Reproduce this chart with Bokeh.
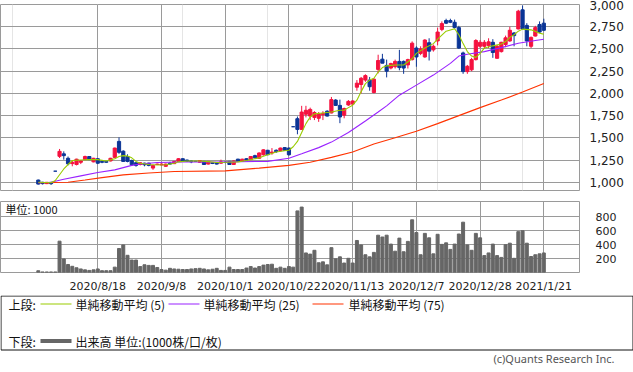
from bokeh.plotting import figure
from bokeh.models import Range1d, FixedTicker, Grid, NumeralTickFormatter, Label, ColumnDataSource
from bokeh.layouts import column
from bokeh.embed import file_html
from bokeh.resources import INLINE
from bokeh.core.properties import value

# ---------------- data (trading-day index, 0 = 2020/8/18) ----------------
day = list(range(-14, 106))

opens = [1025, 1000, 985, 1000, 1125,
         1292, 1320, 1270, 1210, 1200,
         1225, 1255, 1290, 1230, 1265,
         1235, 1235, 1240, 1280, 1460,
         1350, 1290, 1245, 1220, 1200,
         1215, 1215, 1160, 1200, 1195,
         1180, 1215, 1210, 1235, 1265,
         1250, 1240, 1235, 1225, 1235,
         1205, 1220, 1215, 1215, 1225,
         1235, 1200, 1260, 1235, 1265,
         1255, 1300, 1270, 1310, 1360,
         1330, 1360, 1355, 1390, 1385,
         1625, 1715, 1595, 1765, 1745,
         1730, 1720, 1760, 1800, 1780,
         1925, 1865, 1755, 1870, 1880,
         2070, 2100, 2150, 2150, 2010,
         2270, 2385, 2315, 2285, 2300,
         2360, 2360, 2320, 2380, 2510,
         2450, 2410, 2570, 2490, 2590,
         2720, 2820, 2820, 2800, 2740,
         2455, 2245, 2265, 2380, 2530,
         2530, 2540, 2575, 2395, 2470,
         2550, 2590, 2680, 2725, 2940,
         2765, 2530, 2645, 2775, 2790]

highs = [1030, 1005, 1000, 1000, 1125,
         1375, 1348, 1290, 1240, 1265,
         1250, 1300, 1295, 1275, 1270,
         1245, 1240, 1275, 1390, 1505,
         1360, 1315, 1255, 1225, 1225,
         1220, 1220, 1195, 1210, 1210,
         1210, 1230, 1240, 1270, 1270,
         1255, 1245, 1240, 1250, 1240,
         1240, 1225, 1220, 1255, 1235,
         1240, 1245, 1265, 1265, 1270,
         1295, 1310, 1335, 1370, 1365,
         1385, 1370, 1390, 1395, 1390,
         1625, 1740, 1860, 1860, 1840,
         1800, 1790, 1800, 1810, 1960,
         1935, 1930, 1840, 1925, 1920,
         2150, 2185, 2215, 2185, 2170,
         2435, 2445, 2380, 2345, 2380,
         2490, 2370, 2390, 2585, 2530,
         2530, 2610, 2620, 2550, 2740,
         2810, 2840, 2840, 2830, 2760,
         2470, 2320, 2400, 2610, 2600,
         2600, 2620, 2610, 2545, 2580,
         2650, 2750, 2690, 2940, 2990,
         2790, 2640, 2760, 2810, 2840]

lows = [975, 975, 980, 970, 1125,
        1273, 1255, 1190, 1180, 1190,
        1205, 1250, 1250, 1225, 1205,
        1215, 1220, 1235, 1275, 1320,
        1230, 1225, 1185, 1175, 1190,
        1180, 1180, 1140, 1195, 1190,
        1175, 1200, 1205, 1230, 1230,
        1230, 1215, 1230, 1220, 1195,
        1200, 1205, 1200, 1210, 1215,
        1195, 1195, 1230, 1230, 1240,
        1250, 1270, 1265, 1300, 1305,
        1310, 1330, 1345, 1355, 1300,
        1625, 1540, 1590, 1730, 1700,
        1700, 1680, 1700, 1740, 1775,
        1860, 1665, 1720, 1860, 1870,
        2030, 2000, 2130, 2030, 2000,
        2225, 2340, 2180, 2270, 2280,
        2260, 2220, 2280, 2370, 2300,
        2430, 2400, 2370, 2470, 2540,
        2700, 2780, 2790, 2730, 2500,
        2220, 2220, 2250, 2370, 2510,
        2500, 2510, 2400, 2390, 2460,
        2520, 2580, 2530, 2720, 2720,
        2530, 2510, 2640, 2680, 2700]

closes = [980, 985, 1000, 985, 1125,
          1348, 1300, 1208, 1225, 1260,
          1240, 1290, 1255, 1270, 1215,
          1225, 1225, 1270, 1385, 1337,
          1235, 1235, 1197, 1190, 1220,
          1197, 1190, 1190, 1205, 1205,
          1205, 1205, 1235, 1265, 1235,
          1235, 1230, 1235, 1245, 1200,
          1235, 1212, 1205, 1230, 1225,
          1200, 1240, 1235, 1260, 1250,
          1290, 1275, 1330, 1365, 1310,
          1340, 1345, 1385, 1360, 1310,
          1625, 1595, 1790, 1810, 1820,
          1785, 1770, 1775, 1745, 1930,
          1865, 1735, 1830, 1910, 1915,
          2115, 2170, 2200, 2075, 2160,
          2370, 2340, 2250, 2335, 2360,
          2290, 2285, 2380, 2565, 2410,
          2500, 2600, 2475, 2530, 2690,
          2785, 2790, 2800, 2740, 2510,
          2245, 2305, 2380, 2595, 2575,
          2575, 2580, 2460, 2530, 2575,
          2625, 2710, 2650, 2925, 2725,
          2590, 2630, 2740, 2690, 2710]

volume = [25, 8, 8, 8, 8,
          450, 195, 115, 89, 68,
          51, 38, 30, 38, 51,
          26, 26, 26, 77, 345,
          396, 247, 179, 179, 85,
          111, 102, 102, 72, 43,
          34, 60, 51, 47, 43,
          43, 51, 55, 60, 51,
          38, 47, 60, 30, 30,
          77, 43, 43, 43, 64,
          85, 64, 85, 106, 115,
          119, 60, 77, 60, 85,
          77, 885, 940, 281, 264,
          319, 140, 153, 110, 357,
          196, 225, 136, 204, 136,
          460, 396, 255, 225, 289,
          536, 510, 536, 408, 306,
          494, 298, 447, 757, 574,
          255, 562, 498, 268, 549,
          404, 426, 332, 408, 553,
          723, 396, 319, 562, 498,
          243, 281, 408, 243, 217,
          400, 421, 204, 587, 600,
          421, 230, 255, 268, 281]

ma5_day = [-14, -11, -10, -9, -8, -7, -6, -4, -2, 0, 2, 4, 5, 6, 7, 8, 9, 10, 12, 14, 16, 18, 19,
           21, 24, 26, 28, 30, 33, 35, 38, 40, 42, 44, 45, 46, 47, 48, 49, 50, 51, 53, 55, 57, 58,
           59, 60, 61, 62, 63, 64, 65, 66, 67, 68, 70, 72, 74, 75, 77, 79, 80, 82, 84, 85, 86, 87,
           88, 89, 90, 91, 93, 95, 96, 97, 98, 99, 100, 102, 104, 105]
ma5 = [1000, 995, 1020, 1085, 1150, 1200, 1245, 1250, 1255, 1255, 1240, 1265, 1290, 1300, 1295,
       1275, 1235, 1215, 1200, 1195, 1198, 1215, 1230, 1240, 1240, 1232, 1222, 1225, 1230, 1245,
       1275, 1310, 1340, 1355, 1360, 1400, 1460, 1560, 1660, 1735, 1770, 1780, 1790, 1810, 1810,
       1840, 1867, 1924, 2020, 2110, 2150, 2170, 2240, 2290, 2310, 2320, 2320, 2390, 2450, 2510,
       2560, 2610, 2700, 2727, 2660, 2560, 2470, 2420, 2405, 2450, 2510, 2535, 2555, 2583, 2630,
       2660, 2700, 2723, 2715, 2678, 2666]

ma25_day = [-14, -11, -8, -4, 0, 4, 8, 10, 14, 20, 30, 40, 45, 48, 52, 55, 59, 63, 66, 68, 71,
            75, 79, 83, 85, 87, 91, 95, 99, 103, 105]
ma25 = [995, 1000, 1034, 1072, 1110, 1140, 1190, 1205, 1222, 1228, 1230, 1235, 1270, 1320, 1390,
        1452, 1560, 1690, 1790, 1860, 1980, 2093, 2206, 2338, 2420, 2440, 2470, 2515, 2565, 2595,
        2610]

ma75_day = [-14, -7, -3, 1, 6, 12, 18, 30, 38, 45, 50, 55, 60, 65, 70, 75, 80, 85, 90, 95, 100, 105]
ma75 = [995, 1000, 1025, 1053, 1083, 1105, 1121, 1129, 1159, 1190, 1225, 1280, 1340, 1430, 1500,
        1575, 1660, 1750, 1840, 1925, 2015, 2112]

tick_days = [0, 15, 30, 45, 60, 75, 90, 105]
tick_labels = ["2020/8/18", "2020/9/8", "2020/10/1", "2020/10/22",
               "2020/11/13", "2020/12/7", "2020/12/28", "2021/1/21"]
price_ticks = [1000, 1250, 1500, 1750, 2000, 2250, 2500, 2750, 3000]
vol_ticks = [200, 400, 600, 800]

# ---------------- styles ----------------
UP = "#F5113F"
DOWN = "#0B3596"
GRID = "#9A9A9A"
W = 633
RB = 54
XR = Range1d(-22.9, 113.4)

colors = [UP if c > o else DOWN for o, c in zip(opens, closes)]
src = ColumnDataSource(dict(
    day=day, open=opens, high=highs, low=lows, close=closes, vol=volume, color=colors,
    top=[max(o, c) for o, c in zip(opens, closes)],
    bottom=[min(o, c) for o, c in zip(opens, closes)],
))

# ---------------- price panel ----------------
p1 = figure(width=W, height=192, x_range=XR, y_range=Range1d(907.7, 3000),
            output_backend="svg", toolbar_location=None,
            x_axis_location=None, y_axis_location="right",
            min_border_left=0, min_border_right=RB, min_border_top=4, min_border_bottom=2)
p1.background_fill_color = "white"
p1.border_fill_color = "white"
p1.outline_line_color = GRID
p1.outline_line_width = 1
p1.yaxis.ticker = FixedTicker(ticks=price_ticks)
p1.yaxis.formatter = NumeralTickFormatter(format="0,0")
p1.yaxis.axis_line_color = None
p1.yaxis.major_tick_line_color = None
p1.yaxis.minor_tick_line_color = None
p1.yaxis.major_label_standoff = 4
p1.yaxis.major_label_text_font = "DejaVu Sans"
p1.yaxis.major_label_text_font_size = "12px"
p1.yaxis.major_label_text_color = "#222222"
p1.ygrid.ticker = FixedTicker(ticks=price_ticks)
p1.ygrid.grid_line_color = GRID
p1.add_layout(Grid(dimension=0, ticker=FixedTicker(ticks=tick_days), grid_line_color=GRID))

p1.segment(x0="day", y0="low", x1="day", y1="high", color="color", line_width=1, source=src)
p1.vbar(x="day", width=0.75, top="top", bottom="bottom", fill_color="color",
        line_color="color", line_width=1, source=src)
p1.line(ma75_day, ma75, color="#FF3300", line_width=1.1)
p1.line(ma25_day, ma25, color="#9922FF", line_width=1.1)
p1.line(ma5_day, ma5, color="#99CC00", line_width=1.1)

# ---------------- volume panel ----------------
p2 = figure(width=W, height=103, x_range=XR, y_range=Range1d(0, 1020),
            output_backend="svg", toolbar_location=None,
            x_axis_location="below", y_axis_location="right",
            min_border_left=0, min_border_right=RB, min_border_top=9, min_border_bottom=14)
p2.background_fill_color = "white"
p2.border_fill_color = "white"
p2.outline_line_color = GRID
p2.xaxis.ticker = FixedTicker(ticks=tick_days)
p2.xaxis.major_label_overrides = {d: t for d, t in zip(tick_days, tick_labels)}
p2.xaxis.axis_line_color = None
p2.xaxis.major_tick_line_color = None
p2.xaxis.minor_tick_line_color = None
p2.xaxis.major_label_standoff = 1
p2.xaxis.major_label_text_font = "DejaVu Sans"
p2.xaxis.major_label_text_font_size = "11px"
p2.xaxis.major_label_text_color = "#222222"
p2.yaxis.ticker = FixedTicker(ticks=vol_ticks)
p2.yaxis.axis_line_color = None
p2.yaxis.major_tick_line_color = None
p2.yaxis.minor_tick_line_color = None
p2.yaxis.major_label_standoff = 10
p2.yaxis.major_label_text_font = "DejaVu Sans"
p2.yaxis.major_label_text_font_size = "11px"
p2.yaxis.major_label_text_color = "#222222"
p2.xgrid.ticker = FixedTicker(ticks=tick_days)
p2.xgrid.grid_line_color = GRID
p2.ygrid.ticker = FixedTicker(ticks=vol_ticks)
p2.ygrid.grid_line_color = GRID
p2.vbar(x="day", width=0.7, top="vol", bottom=0, color="#666666", source=src)
p2.add_layout(Label(x=-21.7, y=918, text="単位: 1000", text_font="Noto Sans CJK JP",
                    text_font_size="11px", text_baseline="middle", text_color="#111111"))

# ---------------- legend panel ----------------
H3 = 77
p3 = figure(width=W, height=H3, x_range=Range1d(0, W), y_range=Range1d(H3, 0),
            output_backend="svg", toolbar_location=None,
            x_axis_location=None, y_axis_location=None,
            min_border_left=0, min_border_right=0, min_border_top=0, min_border_bottom=0)
try:
    p3.frame_align = False
except Exception:
    pass
p3.outline_line_color = None
p3.background_fill_color = "white"
p3.border_fill_color = "white"
p3.xgrid.visible = False
p3.ygrid.visible = False
p3.quad(left=[0.5], right=[632.5], top=[0.5], bottom=[54.5], fill_color=None,
        line_color="#111111", line_width=1)
r1, r2 = 8.5, 45.5
p3.segment(x0=[40, 168, 312], y0=[r1] * 3, x1=[71, 199, 343], y1=[r1] * 3,
           line_color=["#99CC00", "#9922FF", "#FF3300"], line_width=1.1)
p3.segment(x0=[40], y0=[r2], x1=[71], y1=[r2], line_color="#666666", line_width=4)
p3.text(x=[8, 75, 203, 348, 8, 75], y=[r1, r1, r1, r1, r2, r2],
        text=["上段:", "単純移動平均 (5)", "単純移動平均 (25)", "単純移動平均 (75)",
              "下段:", "出来高 単位:(1000株/口/枚)"],
        text_font=value("Noto Sans CJK JP"), text_font_size="12px",
        text_baseline="middle", text_color="#111111")
p3.text(x=[614], y=[63], text=["(c)Quants Research Inc."], text_font=value("Noto Sans"),
        text_font_size="11px", text_baseline="middle", text_align="right", text_color="#555555")

layout = column(p1, p2, p3, spacing=0)
open("out.html", "w").write(file_html(layout, INLINE))
